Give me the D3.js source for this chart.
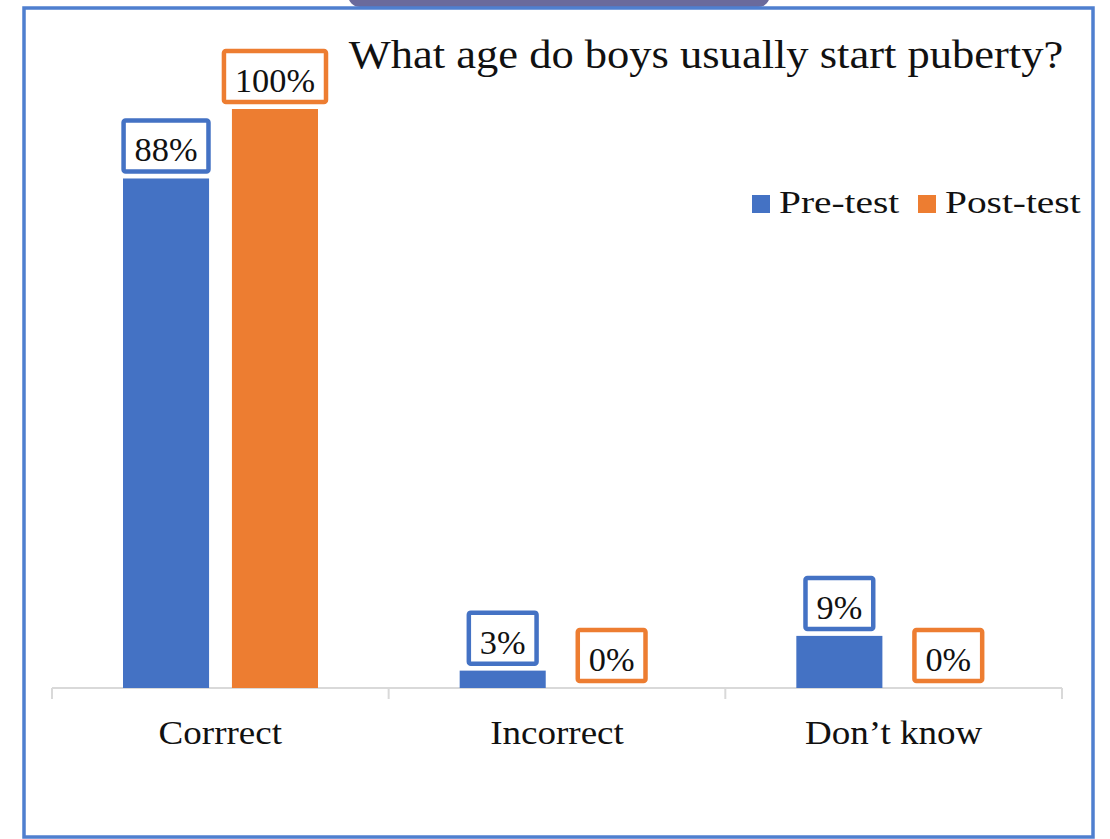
<!DOCTYPE html>
<html><head><meta charset="utf-8">
<script src="https://cdn.jsdelivr.net/npm/d3@7"></script>
<style>html,body{margin:0;padding:0;background:#fff;}svg{display:block;}</style>
</head><body>
<svg id="c" width="1110" height="839"></svg>
<script>
const categories = ["Corrrect", "Incorrect", "Don\u2019t know"];
const seriesNames = ["Pre-test", "Post-test"];
const preTest = [88, 3, 9];
const postTest = [100, 0, 0];
const colors = ["#4472C4", "#ED7D31"];
const title = "What age do boys usually start puberty?";

const svg = d3.select("#c");
const font = "'Liberation Serif', 'Times New Roman', serif";

// frame
svg.append("rect").attr("x", 348).attr("y", -20).attr("width", 422).attr("height", 27)
  .attr("rx", 12).attr("fill", "#6a6a9c");
svg.append("rect").attr("x", 24).attr("y", 8).attr("width", 1069).attr("height", 829)
  .attr("fill", "none").attr("stroke", "#4f7fcf").attr("stroke-width", 3.5);

const x0 = d3.scaleBand().domain(categories).range([52, 1062]).paddingInner(0).paddingOuter(0);
const x1 = d3.scaleBand().domain(seriesNames).range([71, 266]).paddingInner(0.21).paddingOuter(0);
const y = d3.scaleLinear().domain([0, 100]).range([688, 109]);

const data = categories.map((c, i) => ({cat: c, vals: [preTest[i], postTest[i]]}));

// stretched text helper (reference font is wider than Liberation Serif)
function stext(parent, x, yy, str, size, sx, anchor) {
  return parent.append("text")
    .attr("transform", `translate(${x},${yy}) scale(${sx},1)`)
    .attr("text-anchor", anchor).attr("font-family", font).attr("font-size", size)
    .attr("fill", "#111").text(str);
}

// axis
const axisG = svg.append("g").attr("transform", "translate(0,688)");
axisG.append("line").attr("x1", 52).attr("x2", 1062).attr("stroke", "#d9d9d9").attr("stroke-width", 2);
const tickPos = categories.map(c => x0(c)).concat([x0.range()[1]]);
axisG.selectAll("line.tick").data(tickPos).join("line").attr("class", "tick")
  .attr("x1", d => d).attr("x2", d => d).attr("y1", 0).attr("y2", 11)
  .attr("stroke", "#d9d9d9").attr("stroke-width", 2);
categories.forEach(c => stext(axisG, x0(c) + x0.bandwidth() / 2, 56, c, 34, 1.09, "middle"));

// bars
const groups = svg.selectAll("g.grp").data(data).join("g").attr("class", "grp")
  .attr("transform", d => `translate(${x0(d.cat) - 52},0)`);
groups.each(function(d) {
  const g = d3.select(this);
  d.vals.forEach((v, si) => {
    const s = seriesNames[si];
    const bx = 52 + x1(s);
    const bw = x1.bandwidth();
    g.append("rect").attr("x", bx).attr("y", y(v)).attr("width", bw).attr("height", y(0) - y(v))
      .attr("fill", colors[si]);
    const label = v + "%";
    const box = g.append("rect");
    const t = stext(g, bx + bw / 2, y(v) - 17, label, 33, 1.04, "middle");
    const tw = t.node().getComputedTextLength() * 1.04;
    const boxW = tw + 22, boxH = 51;
    box.attr("x", bx + bw / 2 - boxW / 2).attr("y", y(v) - 7 - boxH)
      .attr("width", boxW).attr("height", boxH).attr("rx", 2)
      .attr("fill", "#fff").attr("stroke", colors[si]).attr("stroke-width", 4.5);
  });
});

// title
stext(svg, 706, 68, title, 40, 1.113, "middle");

// legend
const legX = [752, 918];
const leg = svg.selectAll("g.leg").data(seriesNames).join("g").attr("class", "leg")
  .attr("transform", (d, i) => `translate(${legX[i]},195)`);
leg.append("rect").attr("width", 18).attr("height", 18).attr("fill", (d, i) => colors[i]);
leg.each(function(d) { stext(d3.select(this), 27, 18, d, 31, 1.27, "start"); });
</script>
</body></html>
